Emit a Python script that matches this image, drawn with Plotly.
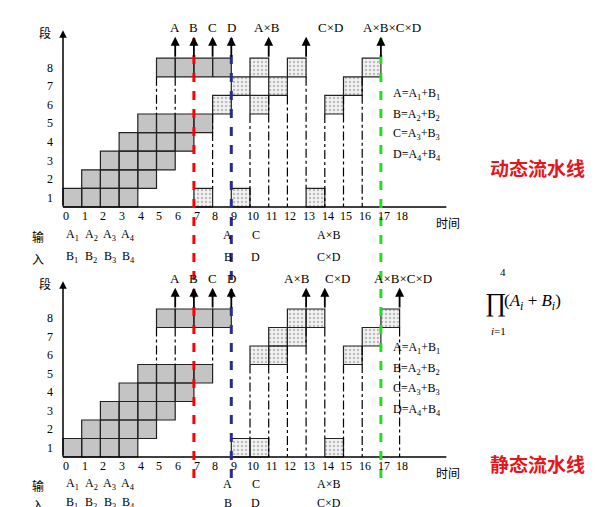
import plotly.graph_objects as go

# time ticks and stage labels
times = list(range(19))
stages = list(range(1, 9))

# gray (addition) cells: start times per stage, same for both charts
add_s1 = [0, 1, 2, 3]
add_s2 = [1, 2, 3, 4]
add_s3 = [2, 3, 4, 5]
add_s4 = [3, 4, 5, 6]
add_s5 = [4, 5, 6, 7]
add_s8 = [5, 6, 7, 8]

# dotted (multiplication) cells, dynamic pipeline
dyn_s1 = [7, 9, 13]
dyn_s6 = [8, 10, 14]
dyn_s7 = [9, 11, 15]
dyn_s8 = [10, 12, 16]

# dotted cells, static pipeline
sta_s1 = [9, 10, 14]
sta_s6 = [10, 11, 15]
sta_s7 = [11, 12, 16]
sta_s8 = [12, 13, 17]

# output arrows (time, label)
dyn_out_t = [6, 7, 8, 9, 11, 13, 17]
sta_out_t = [6, 7, 8, 9, 13, 14, 18]
out_labels_abcd = ["A", "B", "C", "D"]
dyn_prod_labels = [("A×B", 10.9), ("C×D", 14.3), ("A×B×C×D", 17.6)]
sta_prod_labels = [("A×B", 12.5), ("C×D", 14.7), ("A×B×C×D", 18.2)]

# dash-dot guides (time, from, to)
dyn_guides = [(5, 7, 5), (6, 7, 5), (8, 5, 1), (10, 5, 0), (11, 6, 0), (12, 6, 0),
              (13, 7, 1), (14, 5, 0), (15, 6, 0), (16, 7, 0)]
sta_guides = [(5, 7, 5), (6, 7, 5), (8, 7, 5), (10, 5, 1), (11, 5, 0), (12, 6, 0),
              (13, 7, 0), (14, 7, 1), (15, 5, 0), (16, 6, 0), (18, 7, 0)]

# inputs row
inp_a = [("A<sub>1</sub>", 0.5), ("A<sub>2</sub>", 1.5), ("A<sub>3</sub>", 2.5), ("A<sub>4</sub>", 3.5),
         ("A", 8.8), ("C", 10.3), ("A×B", 14.2)]
inp_b = [("B<sub>1</sub>", 0.5), ("B<sub>2</sub>", 1.5), ("B<sub>3</sub>", 2.5), ("B<sub>4</sub>", 3.5),
         ("B", 8.8), ("D", 10.3), ("C×D", 14.2)]
formulas = ["A=A<sub>1</sub>+B<sub>1</sub>", "B=A<sub>2</sub>+B<sub>2</sub>",
            "C=A<sub>3</sub>+B<sub>3</sub>", "D=A<sub>4</sub>+B<sub>4</sub>"]
dyn_form_y = [6.1, 4.95, 3.9, 2.8]
sta_form_y = [5.9, 4.75, 3.65, 2.55]

SERIF = "Liberation Serif"
CJK = "Noto Sans CJK SC"

fig = go.Figure()


def cells(rows, yaxis, dotted):
    xs, ys = [], []
    for stage, ts in rows:
        for t in ts:
            xs += [t, t + 1, t + 1, t, t, None]
            ys += [stage - 1, stage - 1, stage, stage, stage - 1, None]
    kw = dict(fillcolor="#c4c4c4")
    if dotted:
        kw = dict(fillcolor="#efefef",
                  fillpattern=dict(shape=".", fgcolor="#888", bgcolor="#f2f2f2", size=4, solidity=0.3))
    fig.add_trace(go.Scatter(x=xs, y=ys, yaxis=yaxis, mode="lines", fill="toself",
                             line=dict(color="#222", width=1.2), hoverinfo="skip",
                             showlegend=False, **kw))


def txt(x, y, ya, s, size=12, family=SERIF, **kw):
    fig.add_annotation(x=x, y=y, xref="x", yref=ya, text=s, showarrow=False,
                       font=dict(family=family, size=size, color="black"), **kw)


gray = [(1, add_s1), (2, add_s2), (3, add_s3), (4, add_s4), (5, add_s5), (8, add_s8)]
for ya, dots, guides, outs, prods, fy, iy in [
        ("y", [(1, dyn_s1), (6, dyn_s6), (7, dyn_s7), (8, dyn_s8)], dyn_guides, dyn_out_t,
         dyn_prod_labels, dyn_form_y, (-1.5, -2.7)),
        ("y2", [(1, sta_s1), (6, sta_s6), (7, sta_s7), (8, sta_s8)], sta_guides, sta_out_t,
         sta_prod_labels, sta_form_y, (-1.45, -2.5))]:
    cells(gray, ya, False)
    cells(dots, ya, True)
    for t, a, b in guides:
        fig.add_shape(type="line", xref="x", yref=ya, x0=t, x1=t, y0=a, y1=b,
                      line=dict(color="black", width=1.2, dash="dashdot"))
    # axes with arrows
    fig.add_annotation(x=0, y=9.5, ax=0, ay=0, xref="x", yref=ya, axref="x", ayref=ya,
                       showarrow=True, arrowhead=2, arrowwidth=1.5, arrowcolor="black", text="")
    fig.add_shape(type="line", xref="x", yref=ya, x0=0, x1=20.5, y0=0, y1=0,
                  line=dict(color="black", width=1.5))
    for t in outs:
        fig.add_annotation(x=t, y=9.15, ax=t, ay=8, xref="x", yref=ya, axref="x", ayref=ya,
                           showarrow=True, arrowhead=2, arrowwidth=1.8, arrowcolor="black", text="")
    for lab, t in zip(out_labels_abcd, outs[:4]):
        txt(t, 9.65, ya, lab, 13)
    for lab, t in prods:
        txt(t, 9.65, ya, lab, 13)
    for t in times:
        txt(t + 0.15, -0.5, ya, str(t))
    for s in stages:
        txt(-0.7, s - 0.5, ya, str(s))
    txt(-0.95, 9.4, ya, "段", family=CJK)
    txt(20.6, -0.85, ya, "时间", family=CJK)
    txt(-1.35, iy[0] - 0.1, ya, "输", family=CJK)
    txt(-1.35, iy[1] - 0.05, ya, "入", family=CJK)
    for lab, t in inp_a:
        txt(t, iy[0], ya, lab)
    for lab, t in inp_b:
        txt(t, iy[1], ya, lab)
    for lab, y in zip(formulas, fy):
        txt(17.55, y, ya, lab, xanchor="left")

# long dashed markers crossing both charts
for t, col in [(7, "red"), (9, "#2b2b8f"), (17, "#22dd22")]:
    fig.add_shape(type="line", xref="x", yref="paper", x0=t, x1=t,
                  y0=1 - 470 / 507, y1=1 - 30 / 507, line=dict(color=col, width=3, dash="dash"))

fig.add_annotation(x=25.4, y=2.1, xref="x", yref="y", text="<b>动态流水线</b>", showarrow=False,
                   font=dict(family=CJK, size=19, color="#e8141b"))
fig.add_annotation(x=25.4, y=-0.35, xref="x", yref="y2", text="<b>静态流水线</b>", showarrow=False,
                   font=dict(family=CJK, size=19, color="#e8141b"))

# product formula
fig.add_annotation(x=500 / 612, y=1 - 294 / 507, xref="paper", yref="paper", text="∏", showarrow=False,
                   font=dict(family=SERIF, size=26, color="black"))
fig.add_annotation(x=500 / 612, y=1 - 264 / 507, xref="paper", yref="paper", text="4", showarrow=False,
                   font=dict(family=SERIF, size=11, color="black"))
fig.add_annotation(x=500 / 612, y=1 - 323 / 507, xref="paper", yref="paper", text="<i>i</i>=1",
                   showarrow=False, font=dict(family=SERIF, size=11, color="black"))
fig.add_annotation(x=555 / 612, y=1 - 294 / 507, xref="paper", yref="paper",
                   text="(<i>A<sub>i</sub></i> + <i>B<sub>i</sub></i>)", showarrow=False,
                   font=dict(family=SERIF, size=17, color="black"))

fig.update_layout(
    width=612, height=507, margin=dict(l=0, r=0, t=0, b=0),
    plot_bgcolor="white", paper_bgcolor="white",
    xaxis=dict(range=[-55 / 18.7, (612 - 55) / 18.7], visible=False),
    yaxis=dict(range=[-(507 - 199) / 18.6, 199 / 18.6], visible=False),
    yaxis2=dict(range=[-(507 - 449) / 18.5, 449 / 18.5], visible=False, overlaying="y"),
)

fig.write_html("out.html")
